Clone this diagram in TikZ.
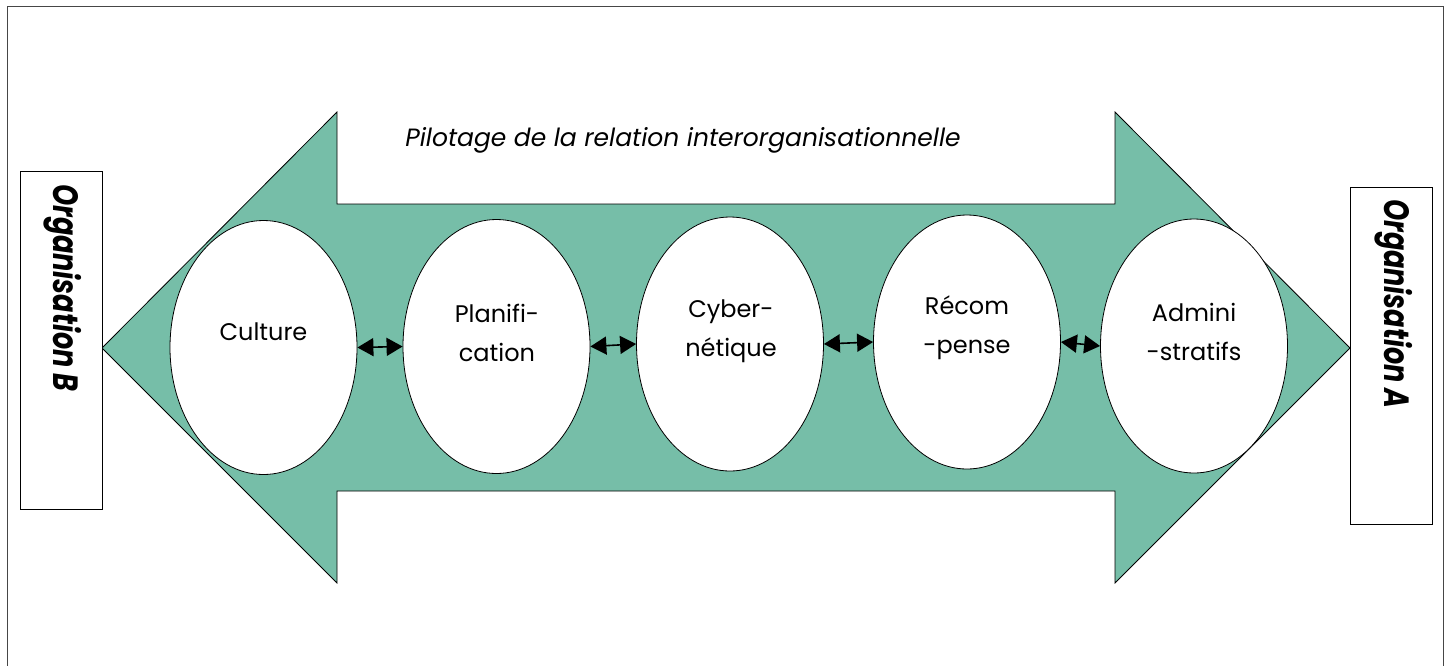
\documentclass[tikz,border=0pt]{standalone}
\usepackage{fontspec}
\setmainfont{Poppins}
\usetikzlibrary{shapes.geometric,arrows.meta}
\definecolor{arrowgreen}{RGB}{118,190,168}
\definecolor{framegrey}{RGB}{70,70,70}
\tikzset{
  oval/.style={ellipse,draw=black,line width=0.8pt,fill=white,minimum width=187pt,minimum height=254pt,inner sep=0pt},
  ovaltext/.style={align=center,font=\fontsize{24}{39}\selectfont,inner sep=0pt},
  orgbox/.style={draw=black,line width=0.8pt,fill=white,minimum width=82pt,inner sep=0pt},
  orgtext/.style={font=\fontsize{27}{30}\selectfont\bfseries\itshape,rotate=-90,inner sep=0pt},
  link/.style={{Triangle[length=16pt,width=18pt]}-{Triangle[length=16pt,width=18pt]},line width=1.6pt}
}
\begin{document}
\begin{tikzpicture}[x=1pt,y=-1pt]
\useasboundingbox (0,0) rectangle (1451,665);
\draw[framegrey,line width=1pt] (7,680) -- (7,6) -- (1443,6) -- (1443,680);
% big double arrow
\draw[fill=arrowgreen,draw=black,line width=0.8pt]
  (102,348) -- (337,112) -- (337,204) -- (1115,204) -- (1115,112) -- (1350,348)
  -- (1115,583) -- (1115,491) -- (337,491) -- (337,583) -- cycle;
\node[font=\fontsize{25}{30}\selectfont\itshape,inner sep=0pt] (title) at (683,140) {Pilotage de la relation interorganisationnelle};
% organisation boxes
\node[orgbox,minimum height=338pt] (boxB) at (61,340) {};
\node[orgtext] (orgB) at (63,288) {\scalebox{1}[1.3]{Organisation B}};
\node[orgbox,minimum height=337pt] (boxA) at (1391.5,355.5) {};
\node[orgtext] (orgA) at (1394,304) {\scalebox{1}[1.3]{Organisation A}};
% ellipses
\node[oval] (e1) at (263.5,347.5) {};
\node[oval] (e2) at (496.5,346.5) {};
\node[oval] (e3) at (730,344) {};
\node[oval] (e4) at (967,342) {};
\node[oval] (e5) at (1194,346) {};
\node[ovaltext] (t1) at (263.5,332) {Culture};
\node[ovaltext] (t2) at (497,333) {Planifi-\\cation};
\node[ovaltext] (t3) at (731,331) {Cyber-\\nétique};
\node[ovaltext] (t4) at (967,328) {Récom\\-pense};
\node[ovaltext] (t5) at (1194,332) {Admini\\-stratifs};
% links
\draw[link] (e1.east) -- (e2.west);
\draw[link] (e2.east) -- (e3.west);
\draw[link] (e3.east) -- (e4.west);
\draw[link] (e4.east) -- (e5.west);
\end{tikzpicture}
\end{document}
